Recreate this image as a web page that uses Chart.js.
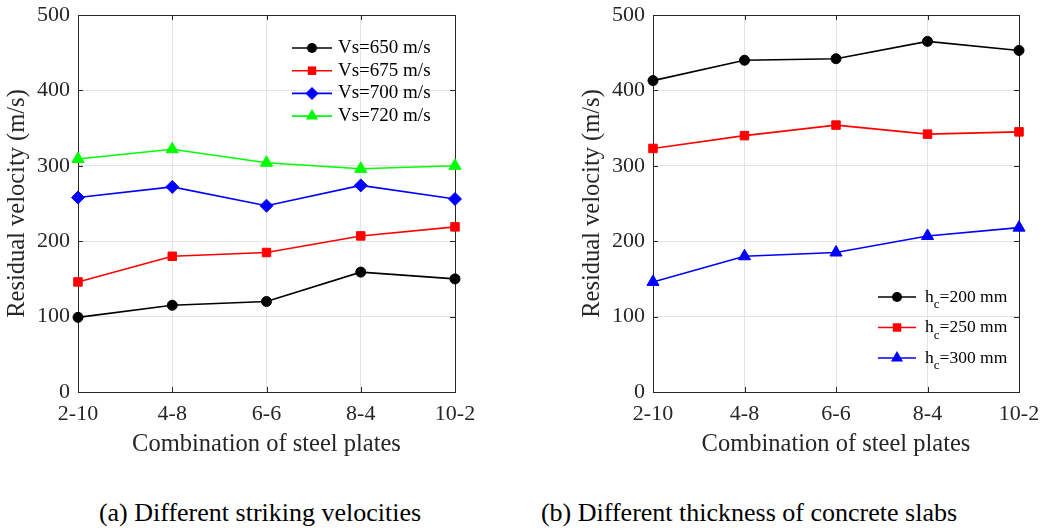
<!DOCTYPE html>
<html>
<head>
<meta charset="utf-8">
<script src="https://cdn.jsdelivr.net/npm/chart.js@4.4.1/dist/chart.umd.min.js"></script>
<style>
  body { margin: 0; background: #fff; width: 1057px; height: 530px; position: relative; overflow: hidden; }
  .panel { position: absolute; top: 0; height: 470px; }
  .caption { position: absolute; top: 498px; font-family: "Liberation Serif", "Times New Roman", serif;
             font-size: 26px; color: #000; white-space: nowrap; line-height: 30px;
             transform: translateX(-50%); }
</style>
</head>
<body>
<div class="panel" style="left:0;width:495px"><canvas id="chartA" width="495" height="470"></canvas></div>
<div class="panel" style="left:575px;width:482px"><canvas id="chartB" width="482" height="470"></canvas></div>
<div class="caption" style="left:260px">(a) Different striking velocities</div>
<div class="caption" style="left:749px">(b) Different thickness of concrete slabs</div>
<script>
// steel plate combinations (x categories)
const categories = ['2-10', '4-8', '6-6', '8-4', '10-2'];
const yMin = 0;
const yMax = 500;
const yStep = 100;

// (a) residual velocity for different striking velocities
const vs650 = [99, 115, 120, 159, 150];
const vs675 = [146, 180, 185, 207, 219];
const vs700 = [258, 272, 247, 274, 256];
const vs720 = [309, 322, 304, 296, 300];
const namesA = ['Vs=650 m/s', 'Vs=675 m/s', 'Vs=700 m/s', 'Vs=720 m/s'];

// (b) residual velocity for different slab thickness
const hc200 = [413, 440, 442, 465, 453];
const hc250 = [323, 340, 354, 342, 345];
const hc300 = [146, 180, 185, 207, 218];
const namesB = ['h_c=200 mm', 'h_c=250 mm', 'h_c=300 mm'];

const FONT = '"Liberation Serif", "Times New Roman", serif';
const INK = '#262626';

function line(label, data, color, style, radius) {
  return {
    label: label.replace('_', ''),
    legendText: label,
    data: data,
    borderColor: color,
    backgroundColor: color,
    borderWidth: 1.6,
    pointStyle: style,
    pointRadius: radius,
    pointHoverRadius: radius,
    pointBorderWidth: 1,
    tension: 0,
    clip: false
  };
}

function drawMarker(ctx, style, r, x, y, color) {
  ctx.fillStyle = color;
  ctx.beginPath();
  if (style === 'circle') {
    ctx.arc(x, y, r, 0, Math.PI * 2);
  } else if (style === 'rect') {
    const s = r * Math.SQRT1_2;
    ctx.rect(x - s, y - s, 2 * s, 2 * s);
  } else if (style === 'rectRot') {
    ctx.moveTo(x - r, y); ctx.lineTo(x, y - r); ctx.lineTo(x + r, y); ctx.lineTo(x, y + r);
  } else if (style === 'triangle') {
    ctx.moveTo(x, y - r);
    ctx.lineTo(x + r * Math.sin(2 * Math.PI / 3), y - r * Math.cos(2 * Math.PI / 3));
    ctx.lineTo(x + r * Math.sin(4 * Math.PI / 3), y - r * Math.cos(4 * Math.PI / 3));
  }
  ctx.closePath();
  ctx.fill();
}

// box around the plot with MATLAB-like inward ticks
const framePlugin = {
  id: 'frame',
  beforeDatasetsDraw(chart) {
    const { ctx, chartArea: a, scales: { x, y } } = chart;
    ctx.save();
    ctx.strokeStyle = INK;
    ctx.lineWidth = 1;
    ctx.beginPath();
    x.ticks.forEach((t, i) => {
      const px = Math.round(x.getPixelForTick(i)) + 0.5;
      ctx.moveTo(px, a.bottom); ctx.lineTo(px, a.bottom - 5);
      ctx.moveTo(px, a.top); ctx.lineTo(px, a.top + 5);
    });
    y.ticks.forEach((t, i) => {
      const py = Math.round(y.getPixelForTick(i)) + 0.5;
      ctx.moveTo(a.left, py); ctx.lineTo(a.left + 5, py);
      ctx.moveTo(a.right, py); ctx.lineTo(a.right - 5, py);
    });
    ctx.stroke();
    ctx.strokeRect(Math.round(a.left) + 0.5, Math.round(a.top) + 0.5,
                   Math.round(a.right - a.left), Math.round(a.bottom - a.top));
    ctx.restore();
  }
};

// legend drawn inside the plot area, no box
const innerLegend = {
  id: 'innerLegend',
  afterDraw(chart, args, opts) {
    const { ctx, chartArea: a } = chart;
    ctx.save();
    chart.data.datasets.forEach((ds, i) => {
      const x0 = a.left + opts.left;
      const cy = a.top + opts.top + i * opts.rowGap;
      ctx.strokeStyle = ds.borderColor;
      ctx.lineWidth = ds.borderWidth;
      ctx.beginPath();
      ctx.moveTo(x0, cy); ctx.lineTo(x0 + opts.lineLen, cy);
      ctx.stroke();
      drawMarker(ctx, ds.pointStyle, ds.pointRadius, x0 + opts.lineLen / 2, cy, ds.backgroundColor);

      ctx.fillStyle = '#000';
      ctx.textBaseline = 'middle';
      ctx.textAlign = 'left';
      let tx = x0 + opts.lineLen + opts.gap;
      const parts = ds.legendText.split('_');
      ctx.font = opts.size + 'px ' + FONT;
      if (parts.length === 1) {
        ctx.fillText(parts[0], tx, cy);
      } else {
        ctx.fillText(parts[0], tx, cy);
        tx += ctx.measureText(parts[0]).width;
        ctx.font = opts.subSize + 'px ' + FONT;
        ctx.fillText(parts[1][0], tx, cy + opts.subSize * 0.6);
        tx += ctx.measureText(parts[1][0]).width;
        ctx.font = opts.size + 'px ' + FONT;
        ctx.fillText(parts[1].slice(1), tx, cy);
      }
    });
    ctx.restore();
  }
};

function makeChart(id, datasets, padRight, legendOpts) {
  return new Chart(document.getElementById(id), {
    type: 'line',
    data: { labels: categories, datasets: datasets },
    plugins: [framePlugin, innerLegend],
    options: {
      responsive: false,
      animation: false,
      events: [],
      layout: { padding: { top: 15, right: padRight, left: 0, bottom: 0 } },
      plugins: {
        legend: { display: false },
        tooltip: { enabled: false },
        innerLegend: legendOpts
      },
      scales: {
        x: {
          offset: false,
          afterFit: (s) => { s.height = 78; s.paddingLeft = 0; s.paddingRight = 0; },
          grid: { color: '#e4e4e4', lineWidth: 1, drawTicks: false },
          border: { display: false },
          ticks: { color: INK, font: { family: FONT, size: 22 }, padding: 9, maxRotation: 0, autoSkip: false },
          title: { display: true, text: 'Combination of steel plates', color: INK,
                   font: { family: FONT, size: 24.5 }, padding: { top: 0, bottom: 11 } }
        },
        y: {
          min: yMin, max: yMax,
          afterFit: (s) => { s.width = 78; s.paddingTop = 0; s.paddingBottom = 0; },
          grid: { color: '#e4e4e4', lineWidth: 1, drawTicks: false },
          border: { display: false },
          ticks: { stepSize: yStep, color: INK, font: { family: FONT, size: 22 }, padding: 8 },
          title: { display: true, text: 'Residual velocity (m/s)', color: INK,
                   font: { family: FONT, size: 24.5 }, padding: { top: 3, bottom: 0 } }
        }
      }
    }
  });
}

makeChart('chartA', [
  line(namesA[0], vs650, '#000000', 'circle', 5),
  line(namesA[1], vs675, '#ff0000', 'rect', 6),
  line(namesA[2], vs700, '#0000ff', 'rectRot', 6.5),
  line(namesA[3], vs720, '#00ff00', 'triangle', 7)
], 40, { left: 214, top: 33, rowGap: 22.7, lineLen: 40, gap: 6, size: 19 });

makeChart('chartB', [
  line(namesB[0], hc200, '#000000', 'circle', 5),
  line(namesB[1], hc250, '#ff0000', 'rect', 6),
  line(namesB[2], hc300, '#0000ff', 'triangle', 7)
], 38, { left: 225, top: 282, rowGap: 30.5, lineLen: 38, gap: 9, size: 17.5, subSize: 13 });
</script>
</body>
</html>
